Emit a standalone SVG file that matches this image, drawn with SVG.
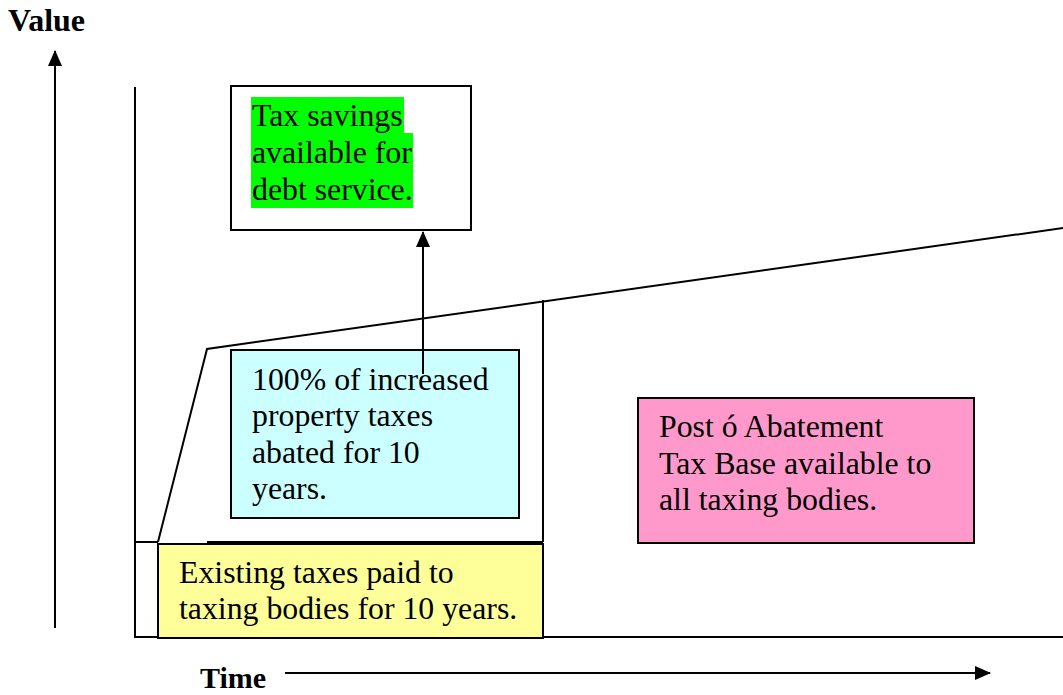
<svg xmlns="http://www.w3.org/2000/svg" width="1063" height="695" viewBox="0 0 1063 695">
<style>
text{font-family:"Liberation Serif","Times New Roman",serif;fill:#000}
.t{font-size:31.8px}
.b{font-size:31px;font-weight:bold}
.box{stroke:#000;stroke-width:2}
.ln{stroke:#000;stroke-width:2;fill:none}
</style>
<defs>
<marker id="ah2" markerWidth="16" markerHeight="16" refX="15" refY="8" orient="auto" markerUnits="userSpaceOnUse" viewBox="0 0 16 16">
<path d="M0,1 L16,8 L0,15 Z" fill="#000"/>
</marker>
</defs>
<rect width="1063" height="695" fill="#fff"/>
<g id="axes">
<text class="b" x="8" y="31" style="font-size:32px">Value</text>
<line class="ln" x1="55" y1="628" x2="55" y2="51" marker-end="url(#ah2)"/>
<text class="b" x="200" y="688" style="font-size:30px">Time</text>
<line class="ln" x1="285" y1="673" x2="990" y2="673" marker-end="url(#ah2)"/>
</g>
<g id="connectors">
<polyline class="ln" points="135,87 135,637 1063,637"/>
<line class="ln" x1="135" y1="542" x2="158" y2="542"/>
<polyline class="ln" points="158,542 207,349 1063,228"/>
<line class="ln" x1="207" y1="542" x2="543" y2="542"/>
<line class="ln" x1="543" y1="300" x2="543" y2="542"/>
<line class="ln" x1="423" y1="374" x2="423" y2="232" marker-end="url(#ah2)"/>
</g>
<g id="savings">
<rect class="box" x="231" y="86" width="240" height="144" fill="#fff"/>
<rect x="251" y="97" width="153" height="36" fill="#00ff00"/>
<rect x="251" y="133" width="162" height="75" fill="#00ff00"/>
<text class="t" x="252" y="126">Tax savings</text>
<text class="t" x="252" y="163">available for</text>
<text class="t" x="252" y="200">debt service.</text>
</g>
<g id="abated">
<rect class="box" x="231" y="350" width="288" height="168" fill="#ccffff"/>
<line class="ln" x1="423" y1="350" x2="423" y2="374"/>
<text class="t" x="252" y="390">100% of increased</text>
<text class="t" x="252" y="426">property taxes</text>
<text class="t" x="252" y="463">abated for 10</text>
<text class="t" x="252" y="499">years.</text>
</g>
<g id="existing">
<rect class="box" x="158" y="544" width="385" height="94" fill="#ffff99"/>
<text class="t" x="179" y="583">Existing taxes paid to</text>
<text class="t" x="179" y="619">taxing bodies for 10 years.</text>
</g>
<g id="post">
<rect class="box" x="638" y="398" width="336" height="145" fill="#ff99cc"/>
<text class="t" x="659" y="437">Post ó Abatement</text>
<text class="t" x="659" y="474">Tax Base available to</text>
<text class="t" x="659" y="510">all taxing bodies.</text>
</g>
</svg>
